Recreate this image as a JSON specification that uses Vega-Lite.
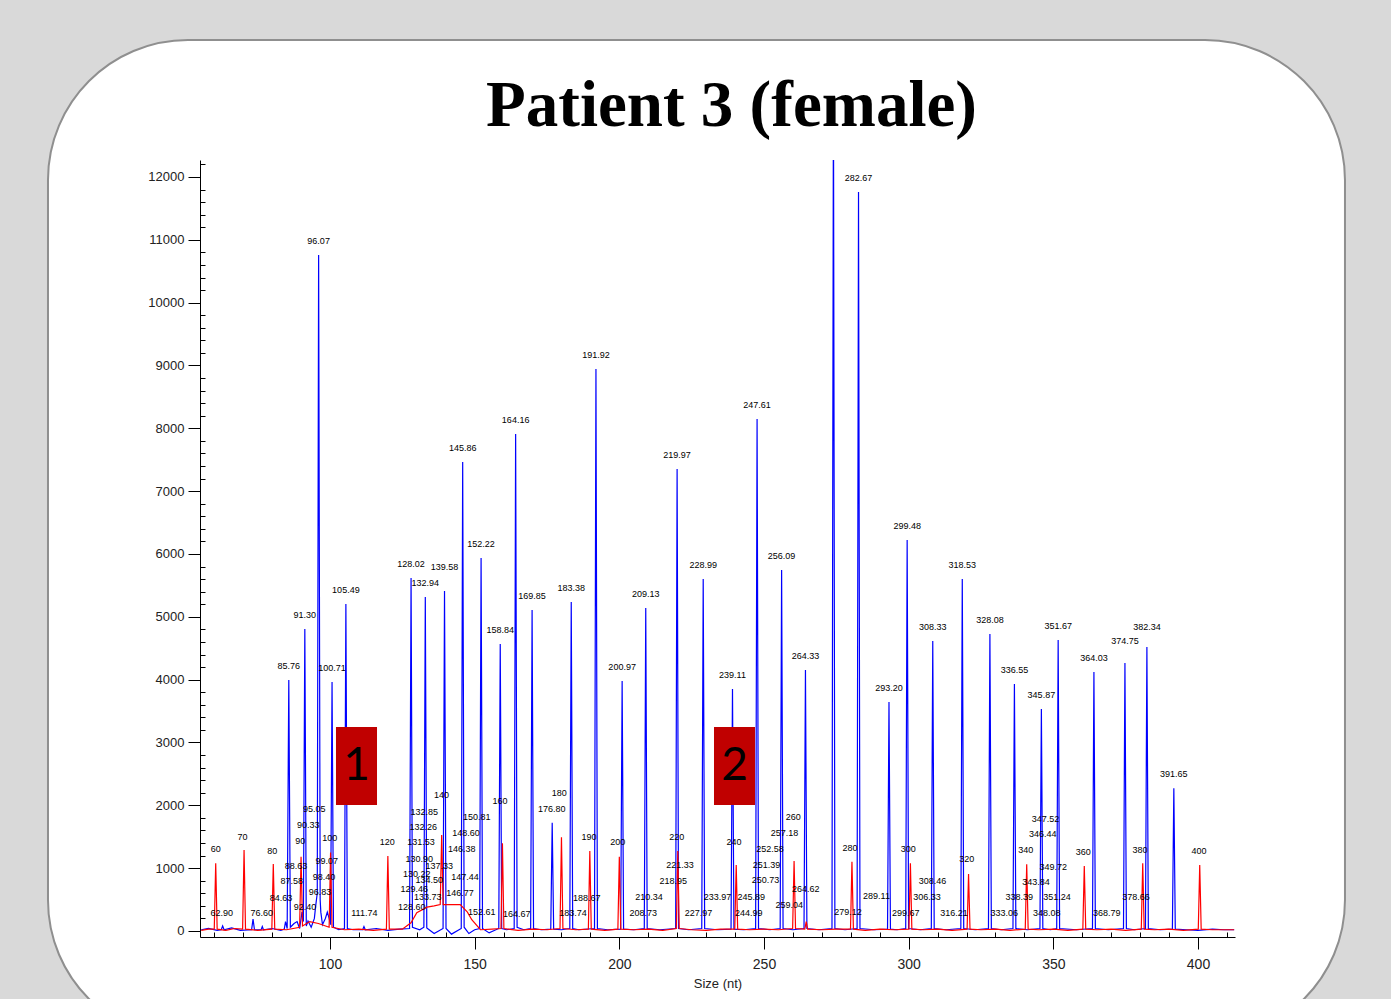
{
"$schema": "https://vega.github.io/schema/vega-lite/v6.json",
"width": 1035, "height": 777,
"autosize": "none",
"padding": {"left": 200, "top": 160, "right": 156, "bottom": 62},
"background": "#d9d9d9",
"config": {"view": {"stroke": "#000000", "strokeWidth": 1}},
"title": {"text": "Patient 3 (female)", "font": "Liberation Serif", "fontSize": 65, "fontWeight": "bold", "color": "#000000", "anchor": "middle", "frame": "group", "baseline": "alphabetic", "offset": -152, "dx": 14},
"resolve": {"axis": {"x": "independent", "y": "independent"}},
"datasets": {
"trace": [
{"dye":"blue","x":55.5,"y":20},{"dye":"blue","x":58,"y":40},{"dye":"blue","x":61,"y":10},{"dye":"blue","x":62.4,"y":20},{"dye":"blue","x":62.9,"y":80},{"dye":"blue","x":63.4,"y":20},{"dye":"blue","x":66,"y":50},{"dye":"blue","x":69,"y":10},{"dye":"blue","x":72.9,"y":20},{"dye":"blue","x":73.4,"y":190},{"dye":"blue","x":73.9,"y":20},{"dye":"blue","x":76.2,"y":20},{"dye":"blue","x":76.6,"y":70},{"dye":"blue","x":77,"y":20},{"dye":"blue","x":80,"y":40},{"dye":"blue","x":83,"y":10},{"dye":"blue","x":84.2,"y":30},{"dye":"blue","x":84.63,"y":150},{"dye":"blue","x":85.2,"y":40},{"dye":"blue","x":85.76,"y":3995},{"dye":"blue","x":86.3,"y":60},{"dye":"blue","x":87.58,"y":120},{"dye":"blue","x":88.63,"y":150},{"dye":"blue","x":89.5,"y":40},{"dye":"blue","x":90.33,"y":300},{"dye":"blue","x":90.8,"y":150},{"dye":"blue","x":91.3,"y":4806},{"dye":"blue","x":91.8,"y":80},{"dye":"blue","x":92.4,"y":160},{"dye":"blue","x":93.5,"y":60},{"dye":"blue","x":94.6,"y":200},{"dye":"blue","x":95.05,"y":400},{"dye":"blue","x":95.6,"y":600},{"dye":"blue","x":96.07,"y":10760},{"dye":"blue","x":96.6,"y":500},{"dye":"blue","x":96.83,"y":300},{"dye":"blue","x":97.4,"y":100},{"dye":"blue","x":98.4,"y":200},{"dye":"blue","x":99.07,"y":300},{"dye":"blue","x":99.7,"y":200},{"dye":"blue","x":100.2,"y":100},{"dye":"blue","x":100.71,"y":3963},{"dye":"blue","x":101.2,"y":60},{"dye":"blue","x":103,"y":20},{"dye":"blue","x":105,"y":40},{"dye":"blue","x":105.49,"y":5204},{"dye":"blue","x":106,"y":40},{"dye":"blue","x":108,"y":20},{"dye":"blue","x":111.3,"y":20},{"dye":"blue","x":111.74,"y":70},{"dye":"blue","x":112.2,"y":20},{"dye":"blue","x":116,"y":40},{"dye":"blue","x":120,"y":10},{"dye":"blue","x":124,"y":30},{"dye":"blue","x":127.5,"y":40},{"dye":"blue","x":128.02,"y":5618},{"dye":"blue","x":128.5,"y":60},{"dye":"blue","x":131,"y":20},{"dye":"blue","x":132.45,"y":60},{"dye":"blue","x":132.94,"y":5316},{"dye":"blue","x":133.45,"y":50},{"dye":"blue","x":136,"y":-40},{"dye":"blue","x":139.08,"y":40},{"dye":"blue","x":139.58,"y":5411},{"dye":"blue","x":140.1,"y":40},{"dye":"blue","x":142,"y":-50},{"dye":"blue","x":145.36,"y":40},{"dye":"blue","x":145.86,"y":7464},{"dye":"blue","x":146.36,"y":60},{"dye":"blue","x":148,"y":-40},{"dye":"blue","x":150,"y":20},{"dye":"blue","x":151.72,"y":40},{"dye":"blue","x":152.22,"y":5936},{"dye":"blue","x":152.72,"y":40},{"dye":"blue","x":155,"y":-30},{"dye":"blue","x":158.34,"y":40},{"dye":"blue","x":158.84,"y":4568},{"dye":"blue","x":159.34,"y":40},{"dye":"blue","x":161,"y":20},{"dye":"blue","x":163.66,"y":40},{"dye":"blue","x":164.16,"y":7910},{"dye":"blue","x":164.66,"y":60},{"dye":"blue","x":167,"y":20},{"dye":"blue","x":169.35,"y":40},{"dye":"blue","x":169.85,"y":5109},{"dye":"blue","x":170.35,"y":40},{"dye":"blue","x":173,"y":20},{"dye":"blue","x":176.3,"y":30},{"dye":"blue","x":176.8,"y":1724},{"dye":"blue","x":177.3,"y":30},{"dye":"blue","x":180,"y":20},{"dye":"blue","x":182.88,"y":40},{"dye":"blue","x":183.38,"y":5236},{"dye":"blue","x":183.88,"y":40},{"dye":"blue","x":186,"y":20},{"dye":"blue","x":191.42,"y":40},{"dye":"blue","x":191.92,"y":8944},{"dye":"blue","x":192.42,"y":40},{"dye":"blue","x":196,"y":20},{"dye":"blue","x":200.47,"y":30},{"dye":"blue","x":200.97,"y":3979},{"dye":"blue","x":201.47,"y":30},{"dye":"blue","x":205,"y":20},{"dye":"blue","x":208.63,"y":40},{"dye":"blue","x":209.13,"y":5141},{"dye":"blue","x":209.63,"y":40},{"dye":"blue","x":214,"y":20},{"dye":"blue","x":219.47,"y":40},{"dye":"blue","x":219.97,"y":7353},{"dye":"blue","x":220.47,"y":40},{"dye":"blue","x":224,"y":20},{"dye":"blue","x":228.49,"y":40},{"dye":"blue","x":228.99,"y":5602},{"dye":"blue","x":229.49,"y":40},{"dye":"blue","x":234,"y":20},{"dye":"blue","x":238.61,"y":30},{"dye":"blue","x":239.11,"y":3851},{"dye":"blue","x":239.61,"y":30},{"dye":"blue","x":243,"y":20},{"dye":"blue","x":247.11,"y":40},{"dye":"blue","x":247.61,"y":8149},{"dye":"blue","x":248.11,"y":40},{"dye":"blue","x":252,"y":20},{"dye":"blue","x":255.59,"y":40},{"dye":"blue","x":256.09,"y":5745},{"dye":"blue","x":256.59,"y":40},{"dye":"blue","x":260,"y":20},{"dye":"blue","x":263.83,"y":40},{"dye":"blue","x":264.33,"y":4154},{"dye":"blue","x":264.83,"y":40},{"dye":"blue","x":269,"y":20},{"dye":"blue","x":273.5,"y":40},{"dye":"blue","x":274,"y":13500},{"dye":"blue","x":274.5,"y":40},{"dye":"blue","x":278,"y":20},{"dye":"blue","x":282.17,"y":40},{"dye":"blue","x":282.67,"y":11760},{"dye":"blue","x":283.17,"y":40},{"dye":"blue","x":288,"y":20},{"dye":"blue","x":292.7,"y":30},{"dye":"blue","x":293.2,"y":3645},{"dye":"blue","x":293.7,"y":30},{"dye":"blue","x":296,"y":20},{"dye":"blue","x":298.98,"y":40},{"dye":"blue","x":299.48,"y":6223},{"dye":"blue","x":299.98,"y":40},{"dye":"blue","x":304,"y":20},{"dye":"blue","x":307.83,"y":40},{"dye":"blue","x":308.33,"y":4615},{"dye":"blue","x":308.83,"y":40},{"dye":"blue","x":313,"y":20},{"dye":"blue","x":318.03,"y":40},{"dye":"blue","x":318.53,"y":5602},{"dye":"blue","x":319.03,"y":40},{"dye":"blue","x":323,"y":20},{"dye":"blue","x":327.58,"y":40},{"dye":"blue","x":328.08,"y":4727},{"dye":"blue","x":328.58,"y":40},{"dye":"blue","x":332,"y":20},{"dye":"blue","x":336.05,"y":40},{"dye":"blue","x":336.55,"y":3931},{"dye":"blue","x":337.05,"y":40},{"dye":"blue","x":341,"y":20},{"dye":"blue","x":345.37,"y":40},{"dye":"blue","x":345.87,"y":3533},{"dye":"blue","x":346.37,"y":40},{"dye":"blue","x":349,"y":20},{"dye":"blue","x":351.17,"y":40},{"dye":"blue","x":351.67,"y":4631},{"dye":"blue","x":352.17,"y":40},{"dye":"blue","x":358,"y":20},{"dye":"blue","x":363.53,"y":40},{"dye":"blue","x":364.03,"y":4122},{"dye":"blue","x":364.53,"y":40},{"dye":"blue","x":369,"y":20},{"dye":"blue","x":374.25,"y":40},{"dye":"blue","x":374.75,"y":4265},{"dye":"blue","x":375.25,"y":40},{"dye":"blue","x":378,"y":20},{"dye":"blue","x":381.84,"y":40},{"dye":"blue","x":382.34,"y":4520},{"dye":"blue","x":382.84,"y":40},{"dye":"blue","x":387,"y":20},{"dye":"blue","x":391.15,"y":30},{"dye":"blue","x":391.65,"y":2271},{"dye":"blue","x":392.15,"y":30},{"dye":"blue","x":396,"y":20},{"dye":"blue","x":400,"y":10},{"dye":"blue","x":405,"y":30},{"dye":"blue","x":409,"y":20},{"dye":"blue","x":412.5,"y":20},
{"dye":"red","x":55.5,"y":10},{"dye":"red","x":58,"y":30},{"dye":"red","x":60,"y":30},{"dye":"red","x":60.5,"y":1080},{"dye":"red","x":61,"y":30},{"dye":"red","x":64,"y":10},{"dye":"red","x":67,"y":40},{"dye":"red","x":69.8,"y":30},{"dye":"red","x":70.3,"y":1290},{"dye":"red","x":70.8,"y":30},{"dye":"red","x":75,"y":10},{"dye":"red","x":79.9,"y":30},{"dye":"red","x":80.4,"y":1066},{"dye":"red","x":80.9,"y":30},{"dye":"red","x":85,"y":20},{"dye":"red","x":89.5,"y":60},{"dye":"red","x":90,"y":1183},{"dye":"red","x":90.5,"y":80},{"dye":"red","x":93,"y":150},{"dye":"red","x":96,"y":120},{"dye":"red","x":99.7,"y":60},{"dye":"red","x":100.2,"y":1250},{"dye":"red","x":100.7,"y":60},{"dye":"red","x":105,"y":20},{"dye":"red","x":110,"y":30},{"dye":"red","x":115,"y":10},{"dye":"red","x":119.5,"y":30},{"dye":"red","x":120,"y":1194},{"dye":"red","x":120.5,"y":30},{"dye":"red","x":125,"y":30},{"dye":"red","x":128,"y":130},{"dye":"red","x":130,"y":290},{"dye":"red","x":133.5,"y":380},{"dye":"red","x":136,"y":400},{"dye":"red","x":138.1,"y":420},{"dye":"red","x":138.6,"y":1528},{"dye":"red","x":139.1,"y":420},{"dye":"red","x":140.5,"y":420},{"dye":"red","x":145,"y":420},{"dye":"red","x":147.5,"y":300},{"dye":"red","x":149,"y":180},{"dye":"red","x":152,"y":20},{"dye":"red","x":156,"y":30},{"dye":"red","x":159.1,"y":40},{"dye":"red","x":159.6,"y":1396},{"dye":"red","x":160.1,"y":40},{"dye":"red","x":165,"y":10},{"dye":"red","x":170,"y":30},{"dye":"red","x":175,"y":20},{"dye":"red","x":179.5,"y":40},{"dye":"red","x":180,"y":1491},{"dye":"red","x":180.5,"y":40},{"dye":"red","x":185,"y":20},{"dye":"red","x":189.3,"y":30},{"dye":"red","x":189.8,"y":1273},{"dye":"red","x":190.3,"y":30},{"dye":"red","x":195,"y":10},{"dye":"red","x":199.5,"y":30},{"dye":"red","x":200,"y":1183},{"dye":"red","x":200.5,"y":30},{"dye":"red","x":205,"y":20},{"dye":"red","x":210,"y":30},{"dye":"red","x":215,"y":10},{"dye":"red","x":219.7,"y":40},{"dye":"red","x":220.2,"y":1273},{"dye":"red","x":220.7,"y":40},{"dye":"red","x":225,"y":20},{"dye":"red","x":230,"y":10},{"dye":"red","x":235,"y":30},{"dye":"red","x":239.9,"y":30},{"dye":"red","x":240.4,"y":1050},{"dye":"red","x":240.9,"y":30},{"dye":"red","x":245,"y":20},{"dye":"red","x":250,"y":30},{"dye":"red","x":255,"y":20},{"dye":"red","x":259.9,"y":40},{"dye":"red","x":260.4,"y":1114},{"dye":"red","x":260.9,"y":40},{"dye":"red","x":264.1,"y":30},{"dye":"red","x":264.6,"y":150},{"dye":"red","x":265.1,"y":30},{"dye":"red","x":270,"y":20},{"dye":"red","x":275,"y":30},{"dye":"red","x":279.9,"y":30},{"dye":"red","x":280.4,"y":1103},{"dye":"red","x":280.9,"y":30},{"dye":"red","x":285,"y":10},{"dye":"red","x":290,"y":30},{"dye":"red","x":295,"y":20},{"dye":"red","x":300.1,"y":30},{"dye":"red","x":300.6,"y":1077},{"dye":"red","x":301.1,"y":30},{"dye":"red","x":305,"y":20},{"dye":"red","x":310,"y":30},{"dye":"red","x":315,"y":10},{"dye":"red","x":320.2,"y":30},{"dye":"red","x":320.7,"y":907},{"dye":"red","x":321.2,"y":30},{"dye":"red","x":325,"y":20},{"dye":"red","x":330,"y":30},{"dye":"red","x":335,"y":10},{"dye":"red","x":340.3,"y":30},{"dye":"red","x":340.8,"y":1061},{"dye":"red","x":341.3,"y":30},{"dye":"red","x":345,"y":20},{"dye":"red","x":350,"y":30},{"dye":"red","x":355,"y":10},{"dye":"red","x":360.2,"y":30},{"dye":"red","x":360.7,"y":1035},{"dye":"red","x":361.2,"y":30},{"dye":"red","x":365,"y":20},{"dye":"red","x":370,"y":30},{"dye":"red","x":375,"y":10},{"dye":"red","x":380.4,"y":30},{"dye":"red","x":380.9,"y":1077},{"dye":"red","x":381.4,"y":30},{"dye":"red","x":385,"y":20},{"dye":"red","x":390,"y":30},{"dye":"red","x":395,"y":10},{"dye":"red","x":400.1,"y":30},{"dye":"red","x":400.6,"y":1050},{"dye":"red","x":401.1,"y":30},{"dye":"red","x":405,"y":20},{"dye":"red","x":412.5,"y":20}
],
"labels": [
{"x":85.76,"y":3995,"t":"85.76"},{"x":91.3,"y":4806,"t":"91.30"},{"x":96.07,"y":10760,"t":"96.07"},{"x":100.71,"y":3963,"t":"100.71"},{"x":105.49,"y":5204,"t":"105.49"},{"x":128.02,"y":5618,"t":"128.02"},{"x":132.94,"y":5316,"t":"132.94"},{"x":139.58,"y":5570,"t":"139.58"},{"x":145.86,"y":7464,"t":"145.86"},{"x":152.22,"y":5936,"t":"152.22"},{"x":158.84,"y":4568,"t":"158.84"},{"x":164.16,"y":7910,"t":"164.16"},{"x":169.85,"y":5109,"t":"169.85"},{"x":183.38,"y":5236,"t":"183.38"},{"x":191.92,"y":8944,"t":"191.92"},{"x":200.97,"y":3979,"t":"200.97"},{"x":209.13,"y":5141,"t":"209.13"},{"x":219.97,"y":7353,"t":"219.97"},{"x":228.99,"y":5602,"t":"228.99"},{"x":239.11,"y":3851,"t":"239.11"},{"x":247.61,"y":8149,"t":"247.61"},{"x":256.09,"y":5745,"t":"256.09"},{"x":264.33,"y":4154,"t":"264.33"},{"x":282.67,"y":11760,"t":"282.67"},{"x":293.2,"y":3645,"t":"293.20"},{"x":299.48,"y":6223,"t":"299.48"},{"x":308.33,"y":4615,"t":"308.33"},{"x":318.53,"y":5602,"t":"318.53"},{"x":328.08,"y":4727,"t":"328.08"},{"x":336.55,"y":3931,"t":"336.55"},{"x":345.87,"y":3533,"t":"345.87"},{"x":351.67,"y":4631,"t":"351.67"},{"x":364.03,"y":4122,"t":"364.03"},{"x":374.75,"y":4390,"t":"374.75"},{"x":382.34,"y":4620,"t":"382.34"},{"x":391.65,"y":2271,"t":"391.65"},
{"x":62.57,"y":60,"t":"62.90"},{"x":76.4,"y":60,"t":"76.60"},{"x":83.07,"y":307,"t":"84.63"},{"x":86.76,"y":573,"t":"87.58"},{"x":88.25,"y":812,"t":"88.63"},{"x":92.5,"y":1464,"t":"90.33"},{"x":91.36,"y":154,"t":"92.40"},{"x":94.57,"y":1719,"t":"95.05"},{"x":96.54,"y":393,"t":"96.83"},{"x":97.93,"y":641,"t":"98.40"},{"x":98.86,"y":896,"t":"99.07"},{"x":111.86,"y":60,"t":"111.74"},{"x":128.24,"y":164,"t":"128.60"},{"x":129.14,"y":441,"t":"129.46"},{"x":129.97,"y":684,"t":"130.22"},{"x":130.87,"y":923,"t":"130.90"},{"x":131.45,"y":1188,"t":"131.53"},{"x":132.25,"y":1437,"t":"132.26"},{"x":132.59,"y":1676,"t":"132.85"},{"x":133.77,"y":324,"t":"133.73"},{"x":134.32,"y":589,"t":"134.50"},{"x":137.78,"y":816,"t":"137.33"},{"x":145.52,"y":1078,"t":"146.38"},{"x":144.93,"y":377,"t":"146.77"},{"x":146.66,"y":632,"t":"147.44"},{"x":147.01,"y":1332,"t":"148.60"},{"x":150.7,"y":1596,"t":"150.81"},{"x":152.43,"y":84,"t":"152.61"},{"x":164.53,"y":50,"t":"164.67"},{"x":176.63,"y":1714,"t":"176.80"},{"x":184.0,"y":60,"t":"183.74"},{"x":188.72,"y":307,"t":"188.67"},{"x":208.29,"y":70,"t":"208.73"},{"x":210.26,"y":324,"t":"210.34"},{"x":218.66,"y":578,"t":"218.95"},{"x":220.97,"y":823,"t":"221.33"},{"x":227.4,"y":70,"t":"227.97"},{"x":233.93,"y":324,"t":"233.97"},{"x":244.71,"y":70,"t":"244.99"},{"x":245.62,"y":324,"t":"245.89"},{"x":250.52,"y":589,"t":"250.73"},{"x":250.87,"y":828,"t":"251.39"},{"x":252.08,"y":1078,"t":"252.58"},{"x":257.08,"y":1332,"t":"257.18"},{"x":258.74,"y":191,"t":"259.04"},{"x":264.41,"y":446,"t":"264.62"},{"x":279.04,"y":75,"t":"279.12"},{"x":288.88,"y":334,"t":"289.11"},{"x":299.02,"y":70,"t":"299.67"},{"x":306.36,"y":324,"t":"306.33"},{"x":308.25,"y":578,"t":"308.46"},{"x":315.7,"y":60,"t":"316.21"},{"x":333.02,"y":60,"t":"333.06"},{"x":338.25,"y":312,"t":"338.39"},{"x":344.01,"y":562,"t":"343.84"},{"x":346.31,"y":1316,"t":"346.44"},{"x":347.28,"y":1560,"t":"347.52"},{"x":347.69,"y":60,"t":"348.08"},{"x":349.99,"y":800,"t":"349.72"},{"x":351.27,"y":324,"t":"351.24"},{"x":368.45,"y":60,"t":"368.79"},{"x":378.58,"y":324,"t":"378.66"},
{"x":60.5,"y":1077,"t":"60"},{"x":69.8,"y":1278,"t":"70"},{"x":80.0,"y":1055,"t":"80"},{"x":89.74,"y":1205,"t":"90"},{"x":99.9,"y":1253,"t":"100"},{"x":119.8,"y":1189,"t":"120"},{"x":138.53,"y":1942,"t":"140"},{"x":158.76,"y":1846,"t":"160"},{"x":179.24,"y":1978,"t":"180"},{"x":189.51,"y":1278,"t":"190"},{"x":199.43,"y":1189,"t":"200"},{"x":219.84,"y":1268,"t":"220"},{"x":239.6,"y":1189,"t":"240"},{"x":260.1,"y":1596,"t":"260"},{"x":279.72,"y":1093,"t":"280"},{"x":299.88,"y":1077,"t":"300"},{"x":320.06,"y":918,"t":"320"},{"x":340.45,"y":1066,"t":"340"},{"x":360.36,"y":1039,"t":"360"},{"x":379.95,"y":1066,"t":"380"},{"x":400.35,"y":1055,"t":"400"}
],
"boxes": [
{"x":102.07,"x2":116.25,"y":3247,"y2":2005,"cx":109.16,"cy":2626,"t":"1"},
{"x":232.72,"x2":246.9,"y":3247,"y2":2005,"cx":239.81,"cy":2626,"t":"2"}
]
},
"layer": [
{
"data": {"values": [{}]},
"mark": {"type": "rect", "clip": false, "fill": "#ffffff", "stroke": "#8f8f8f", "strokeWidth": 2, "cornerRadius": 140},
"encoding": {
"x": {"datum": 2.53, "type": "quantitative", "scale": {"domain": [55.07, 412.79], "nice": false, "zero": false}, "axis": null},
"x2": {"datum": 450.8},
"y": {"datum": 14180, "type": "quantitative", "scale": {"domain": [-95.5, 12270.5], "nice": false, "zero": false}, "axis": null},
"y2": {"datum": -1735}
}
},
{
"data": {"name": "trace"},
"mark": {"type": "line", "clip": true, "strokeWidth": 1.2, "interpolate": "linear"},
"encoding": {
"x": {"field": "x", "type": "quantitative", "scale": {"domain": [55.07, 412.79], "nice": false, "zero": false},
 "axis": {"title": "Size (nt)", "orient": "bottom", "zindex": 2, "grid": false, "values": [100,150,200,250,300,350,400], "format": "d", "tickSize": 12, "tickColor": "#000000", "domainColor": "#000000", "labelFont": "Liberation Sans", "labelFontSize": 14, "labelColor": "#222222", "labelPadding": 8, "titleFont": "Liberation Sans", "titleFontSize": 13, "titleFontWeight": "normal", "titleColor": "#222222", "titlePadding": 6}},
"y": {"field": "y", "type": "quantitative", "scale": {"domain": [-95.5, 12270.5], "nice": false, "zero": false},
 "axis": {"title": null, "orient": "left", "zindex": 2, "grid": false, "values": [0,1000,2000,3000,4000,5000,6000,7000,8000,9000,10000,11000,12000], "format": "d", "tickSize": 12, "tickColor": "#000000", "domainColor": "#000000", "labelFont": "Liberation Sans", "labelFontSize": 13, "labelColor": "#222222", "labelPadding": 4}},
"color": {"field": "dye", "type": "nominal", "scale": {"domain": ["blue", "red"], "range": ["#0000ff", "#ff0000"]}, "legend": null}
}
},
{
"data": {"name": "labels"},
"mark": {"type": "text", "font": "Liberation Sans", "fontSize": 9, "color": "#000000", "baseline": "middle", "align": "center", "dy": -14},
"encoding": {
"x": {"field": "x", "type": "quantitative", "scale": {"domain": [55.07, 412.79], "nice": false, "zero": false},
 "axis": {"orient": "bottom", "zindex": 2, "title": null, "labels": false, "domain": false, "grid": false, "values": [60,70,80,90,110,120,130,140,160,170,180,190,210,220,230,240,260,270,280,290,310,320,330,340,360,370,380,390,410], "tickSize": -5, "tickColor": "#000000"}},
"y": {"field": "y", "type": "quantitative", "scale": {"domain": [-95.5, 12270.5], "nice": false, "zero": false},
 "axis": {"orient": "left", "zindex": 2, "title": null, "labels": false, "domain": false, "grid": false, "values": [200,400,600,800,1200,1400,1600,1800,2200,2400,2600,2800,3200,3400,3600,3800,4200,4400,4600,4800,5200,5400,5600,5800,6200,6400,6600,6800,7200,7400,7600,7800,8200,8400,8600,8800,9200,9400,9600,9800,10200,10400,10600,10800,11200,11400,11600,11800,12200], "tickSize": -5, "tickColor": "#000000"}},
"text": {"field": "t", "type": "nominal"}
}
},
{
"data": {"name": "boxes"},
"mark": {"type": "rect", "fill": "#c00000"},
"encoding": {
"x": {"field": "x", "type": "quantitative", "scale": {"domain": [55.07, 412.79], "nice": false, "zero": false}, "axis": null},
"x2": {"field": "x2"},
"y": {"field": "y", "type": "quantitative", "scale": {"domain": [-95.5, 12270.5], "nice": false, "zero": false}, "axis": null},
"y2": {"field": "y2"}
}
},
{
"data": {"name": "boxes"},
"mark": {"type": "text", "font": "Lato", "fontSize": 46, "color": "#000000", "baseline": "middle", "align": "center"},
"encoding": {
"x": {"field": "cx", "type": "quantitative", "scale": {"domain": [55.07, 412.79], "nice": false, "zero": false}, "axis": null},
"y": {"field": "cy", "type": "quantitative", "scale": {"domain": [-95.5, 12270.5], "nice": false, "zero": false}, "axis": null},
"text": {"field": "t", "type": "nominal"}
}
}
]
}
